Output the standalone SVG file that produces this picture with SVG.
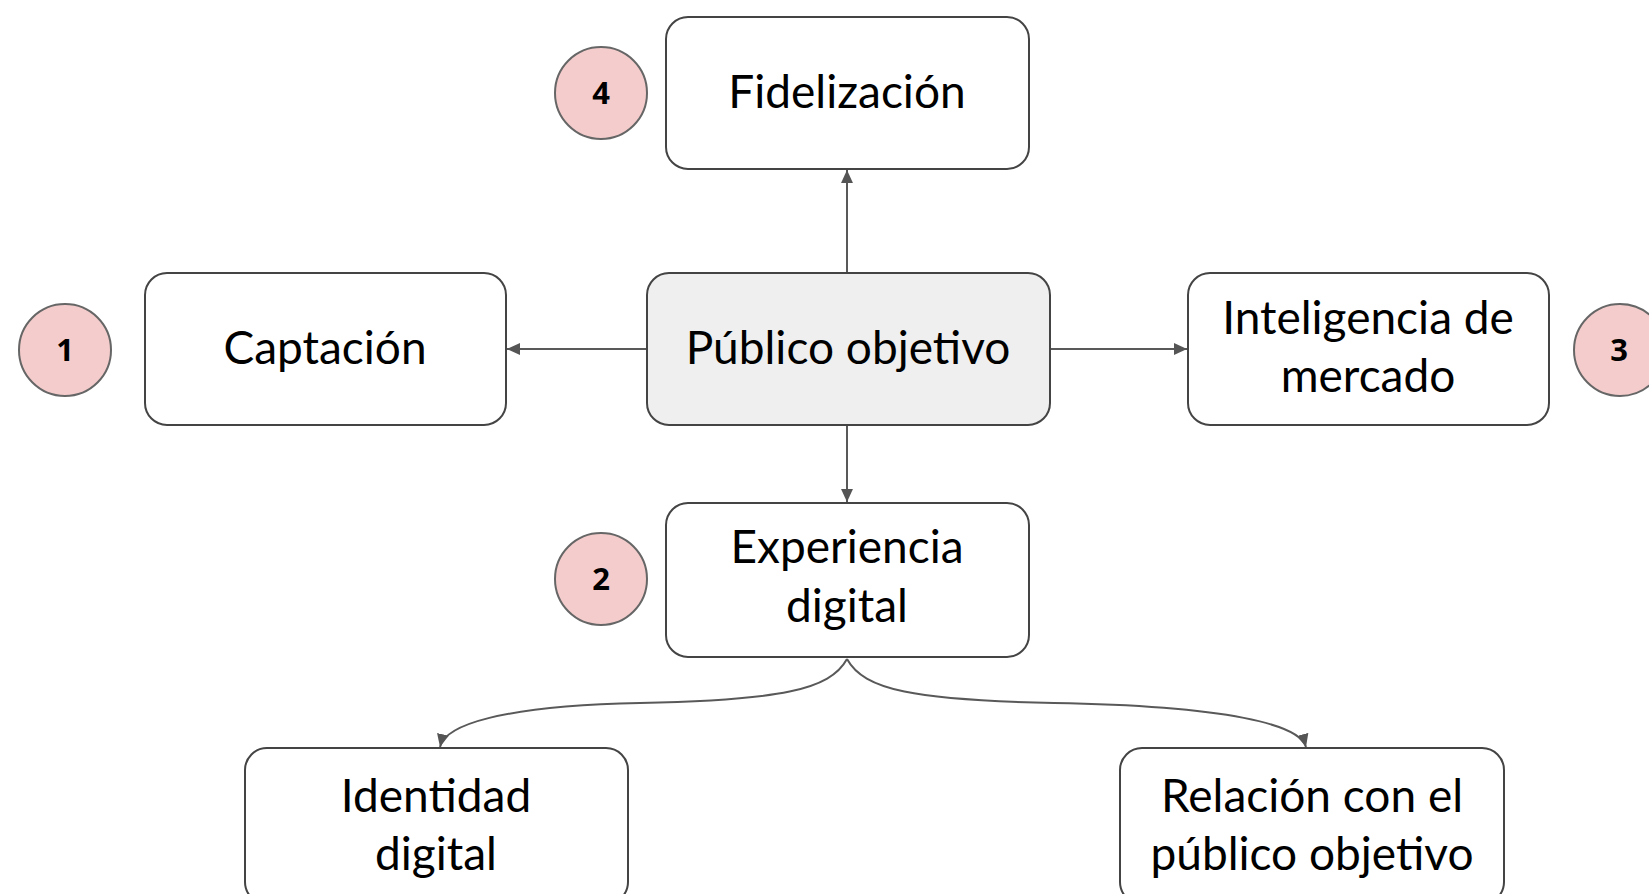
<svg xmlns="http://www.w3.org/2000/svg" width="1649" height="894" viewBox="0 0 1649 894">
<defs>
<marker id="ah" viewBox="0 0 12 12" refX="12" refY="6" markerWidth="13" markerHeight="13" markerUnits="userSpaceOnUse" orient="auto"><path d="M0,0.5 L12,6 L0,11.5 z" fill="#555"/></marker>
<style>
.box{fill:#fff;stroke:#444;stroke-width:2}
.main{fill:#efefef;stroke:#444;stroke-width:2}
.lbl{font-family:Lato,"Liberation Sans",sans-serif;font-size:46px;fill:#000;text-anchor:middle}
.num{fill:#f4cccc;stroke:#666;stroke-width:2}
.nt{font-family:"Noto Sans","Liberation Sans",sans-serif;font-size:31px;font-weight:bold;fill:#000;text-anchor:middle}
.con{fill:none;stroke:#595959;stroke-width:2;marker-end:url(#ah)}
</style>
</defs>
<rect width="1649" height="894" fill="#fff"/>
<g id="connectors">
<path class="con" d="M847,273 L847,170"/>
<path class="con" d="M647,349 L507,349"/>
<path class="con" d="M1050,349 L1187,349"/>
<path class="con" d="M847,425 L847,502"/>
<path class="con" d="M847,659 C830,690 780,700 640,703 C500,706 445,725 440,747"/>
<path class="con" d="M847,659 C864,690 914,700 1054,703 C1230,706 1300,725 1306,747"/>
</g>
<g id="fidelizacion"><rect class="box" x="666" y="17" width="363" height="152" rx="22"/><text class="lbl" x="847" y="108">Fidelización</text></g>
<g id="captacion"><rect class="box" x="145" y="273" width="361" height="152" rx="22"/><text class="lbl" x="325" y="364">Captación</text></g>
<g id="publico"><rect class="main" x="647" y="273" width="403" height="152" rx="22"/><text class="lbl" x="848" y="364">Público objetivo</text></g>
<g id="inteligencia"><rect class="box" x="1188" y="273" width="361" height="152" rx="22"/><text class="lbl" x="1368" y="334">Inteligencia de</text><text class="lbl" x="1368" y="392">mercado</text></g>
<g id="experiencia"><rect class="box" x="666" y="503" width="363" height="154" rx="22"/><text class="lbl" x="847" y="563">Experiencia</text><text class="lbl" x="847" y="622">digital</text></g>
<g id="identidad"><rect class="box" x="245" y="748" width="383" height="156" rx="22"/><text class="lbl" x="436" y="812">Identidad</text><text class="lbl" x="436" y="870">digital</text></g>
<g id="relacion"><rect class="box" x="1120" y="748" width="384" height="156" rx="22"/><text class="lbl" x="1312" y="812">Relación con el</text><text class="lbl" x="1312" y="870">público objetivo</text></g>
<g id="n1"><circle class="num" cx="65" cy="350" r="46"/><text class="nt" x="65" y="361">1</text></g>
<g id="n2"><circle class="num" cx="601" cy="579" r="46"/><text class="nt" x="601" y="590">2</text></g>
<g id="n3"><circle class="num" cx="1620" cy="350" r="46"/><text class="nt" x="1619" y="361">3</text></g>
<g id="n4"><circle class="num" cx="601" cy="93" r="46"/><text class="nt" x="601" y="104">4</text></g>
</svg>
